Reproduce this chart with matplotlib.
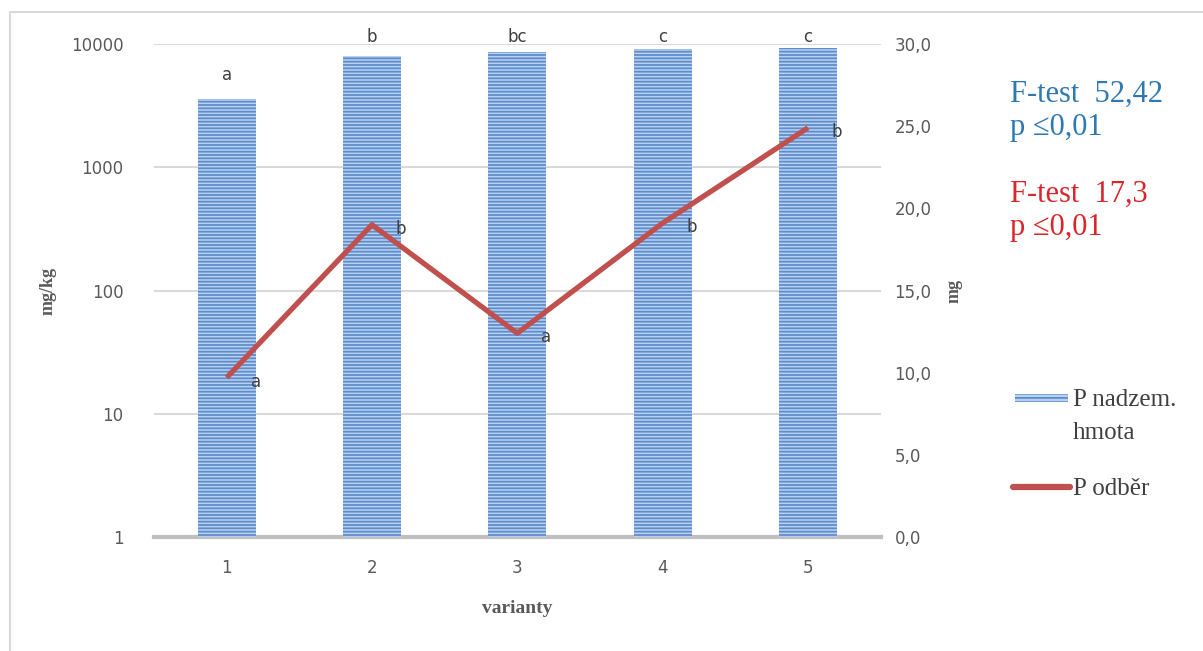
import numpy as np
import matplotlib.pyplot as plt
from matplotlib.patches import Rectangle
from matplotlib.lines import Line2D
from matplotlib.ticker import FixedLocator, FuncFormatter

varianty = [1, 2, 3, 4, 5]
p_nadzem = [3580, 8000, 8600, 9100, 9300]      # mg/kg, log scale
p_odber = [9.7, 19.0, 12.4, 19.1, 24.9]         # mg
bar_letters = ['a', 'b', 'bc', 'c', 'c']
line_letters = ['a', 'b', 'a', 'b', 'b']
left_ticks = [1, 10, 100, 1000, 10000]
right_ticks = [0, 5, 10, 15, 20, 25, 30]

bar_face = '#b9d0f0'
bar_hatch = '#5f8dcc'
line_col = '#c0504d'
txt_col = '#595959'
serif = 'Liberation Serif'

plt.rcParams['hatch.color'] = bar_hatch
plt.rcParams['hatch.linewidth'] = 1.3

W, H = 1203, 651
fig = plt.figure(figsize=(W / 100, H / 100), dpi=100)
ax = fig.add_axes([0.128, 0.175, 0.604, 0.7575])
ax2 = ax.twinx()

# thin frame round the chart area
fig.patches.append(Rectangle((10 / W, -0.1), 1.2, 1 - 12 / H + 0.1,
                             transform=fig.transFigure, fill=False,
                             edgecolor='#d9d9d9', linewidth=1.5, zorder=0))

ax.set_yscale('log')
ax.set_ylim(1, 10000)
ax.set_xlim(0.5, 5.5)
ax.yaxis.set_major_locator(FixedLocator(left_ticks))
ax.yaxis.set_minor_locator(FixedLocator([]))
ax.yaxis.set_major_formatter(FuncFormatter(lambda v, p: '%d' % v))
for t in left_ticks[1:]:
    ax.axhline(t, color='#d9d9d9', linewidth=1.5, zorder=0)

bars = ax.bar(varianty, p_nadzem, width=0.4, color=bar_face,
              edgecolor=bar_hatch, linewidth=0, hatch='-----', zorder=2)
# letters stay just under the top edge of the plot
for x, v, s in zip(varianty, p_nadzem, bar_letters):
    ax.annotate(s, (x, min(v, 7300)), xytext=(0, 17), textcoords='offset points',
                ha='center', va='center', fontsize=12, color='#404040',
                annotation_clip=False)

ax2.set_ylim(0, 30)
ax2.yaxis.set_major_locator(FixedLocator(right_ticks))
ax2.yaxis.set_major_formatter(FuncFormatter(lambda v, p: ('%.1f' % v).replace('.', ',')))
ax2.plot(varianty, p_odber, color=line_col, linewidth=3.8, zorder=3,
         solid_capstyle='butt')
for x, v, s in zip(varianty, p_odber, line_letters):
    ax2.annotate(s, (x, v), xytext=(21, -3), textcoords='offset points',
                 ha='center', va='center', fontsize=12, color='#404040')

for a in (ax, ax2):
    for sp in a.spines.values():
        sp.set_visible(False)
    a.tick_params(axis='both', length=0, labelsize=12, labelcolor=txt_col)
ax.tick_params(axis='y', pad=22)
ax.tick_params(axis='x', pad=16)
ax2.tick_params(axis='y', pad=10)
ax.set_xticks(varianty)
ax.axhline(1, color='#bfbfbf', linewidth=3, zorder=1, clip_on=False)

ax.set_ylabel('mg/kg', fontfamily=serif, fontweight='bold', fontsize=13,
              color=txt_col, labelpad=10)
ax2.set_ylabel('mg', fontfamily=serif, fontweight='bold', fontsize=13,
               color=txt_col, labelpad=10)
ax.set_xlabel('varianty', fontfamily=serif, fontweight='bold', fontsize=14,
              color=txt_col, labelpad=16)

fig.text(1010 / W, 1 - 111 / H, 'F-test  52,42\np \u22640,01', fontfamily=serif,
         fontsize=22, color='#2e78b4', va='center', linespacing=1.2)
fig.text(1010 / W, 1 - 211 / H, 'F-test  17,3\np \u22640,01', fontfamily=serif,
         fontsize=22, color='#d9262b', va='center', linespacing=1.2)

# legend drawn by hand
fig.patches.append(Rectangle((1015 / W, 1 - 402 / H), 53 / W, 8 / H,
                             transform=fig.transFigure, facecolor=bar_face,
                             edgecolor=bar_hatch, linewidth=0, hatch='----'))
fig.lines.append(Line2D([1013 / W, 1070 / W], [1 - 487 / H, 1 - 487 / H],
                        transform=fig.transFigure, color=line_col,
                        linewidth=4.5, solid_capstyle='round'))
for label, ypx in [('P nadzem.', 400), ('hmota', 433), ('P odběr', 489)]:
    fig.text(1073 / W, 1 - ypx / H, label, fontfamily=serif, fontsize=18,
             color='#404040', va='center')

fig.savefig('out.png', dpi=100, facecolor='white')
